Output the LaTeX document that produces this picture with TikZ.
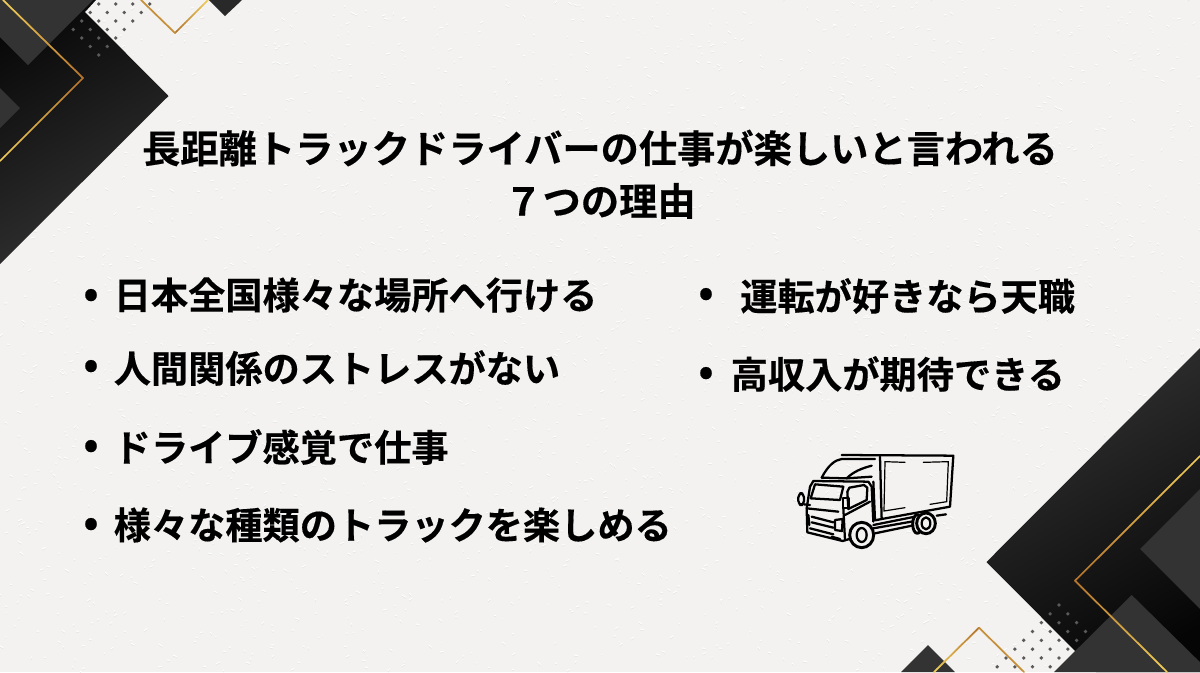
\documentclass[tikz,border=0pt]{standalone}
\usepackage{fontspec}
\setmainfont{Noto Sans CJK JP}[BoldFont=* Bold,BoldFeatures={FakeBold=0.35}]
\definecolor{paperbg}{HTML}{F3F2F0}
\definecolor{golddk}{HTML}{B5762E}
\definecolor{goldlt}{HTML}{EFCB58}
\definecolor{slatedk}{HTML}{333333}
\definecolor{dotgrey}{HTML}{5A5A5A}
\tikzset{
  titletext/.style={font=\fontsize{28.7pt}{30pt}\selectfont\bfseries, text=black, inner sep=0pt},
  itemtext/.style={font=\fontsize{27.9pt}{30pt}\selectfont\bfseries, text=black, inner sep=0pt, anchor=west},
  bullettext/.style={font=\fontsize{30pt}{30pt}\selectfont\bfseries, text=black, inner sep=0pt},
  goldline/.style={line width=1.3pt, line cap=round},
  truckline/.style={line width=1.7pt, line join=round, line cap=round, black},
  truckthin/.style={line width=0.9pt, line cap=round, black},
}
% gold line, pale at the first end and copper at the second
\newcommand{\goldrun}[4]{%
  \foreach \t in {0,...,15}{
    \pgfmathsetmacro{\mixv}{100-\t*100/15}
    \draw [goldline, color=goldlt!\mixv!golddk]
      ({#1+(#3-#1)*\t/16},{#2+(#4-#2)*\t/16}) -- ({#1+(#3-#1)*(\t+1)/16},{#2+(#4-#2)*(\t+1)/16});
  }}
\begin{document}
\begin{tikzpicture}[x=0.75pt,y=0.75pt,yscale=-1]
\useasboundingbox (0,0) rectangle (1200,672);
\clip (0,0) rectangle (1200,672);

%Background
\fill [paperbg] (0,0) rectangle (1200,672);
%paper grain
\pgfmathsetseed{4711}
\foreach \k in {1,...,2600}{
  \pgfmathsetmacro{\px}{random(0,1200)}
  \pgfmathsetmacro{\py}{random(0,672)}
  \pgfmathsetmacro{\pa}{rnd*5-2.5}
  \pgfmathsetmacro{\pb}{rnd*4}
  \draw [white, line width=0.7pt] (\px,\py) -- ++(\pb,\pa);
  \draw [black!11, line width=0.35pt] (\px,\py+1.2) -- ++(\pb,\pa);
}

%Shape: top left diamond
\shade [bottom color=black!97, top color=black!80, shading angle=-150] (-30,0) -- (96,0) -- (85,12) -- (168.5,96) -- (0,264) -- (-30,264) -- cycle;
%top left lighter pieces
\fill [slatedk] (0,0) -- (93,0) -- (28,65) -- (0,37) -- cycle;
\fill [slatedk] (0,88) -- (20,108) -- (0,128) -- cycle;
%Dots top left
\foreach \i in {0,...,6}
  \foreach \j in {0,...,3}
    \fill [dotgrey] ({98.7+8.5*\i-8.5*\j},{55-8.5*\i-8.5*\j}) circle (1.9);
%Gold lines top left
\goldrun{3}{0}{83}{78}
\goldrun{0}{161}{83}{78}
%top small diamond and gold
\fill [slatedk!80!black] (209,0) -- (225,16) -- (242,0) -- cycle;
\goldrun{208}{0}{175}{33}
\draw [goldline, golddk!70!goldlt] (141,0) -- (175,33);

%Shape: bottom right diamond
\shade [bottom color=black!80, top color=black!98, shading angle=-150] (986.5,562) -- (1200,348) -- (1230,348) -- (1230,672) -- (1096,672) -- cycle;
%Dots bottom right
\foreach \i in {0,...,8}
  \foreach \j in {0,...,3}
    \fill [dotgrey] ({1059-8.83*\i+8.83*\j},{605+8.83*\i+8.83*\j}) circle (1.9);
%bottom right lighter pieces
\fill [slatedk] (1131.7,595) -- (1054,672) -- (1210,672) -- cycle;
\fill [slatedk] (1140,549) -- (1200,489) -- (1200,609) -- cycle;
%Gold lines bottom right
\goldrun{1200}{456}{1075}{580.7}
\goldrun{1167}{672}{1075}{580.7}
%bottom small diamond and gold
\fill [slatedk] (928,645) -- (901,672) -- (955,672) -- cycle;
\goldrun{934}{672}{979}{627.7}
\draw [goldline, golddk!70!goldlt] (979,627.7) -- (1024,672);

% Text Node
\node (titleone) [titletext] at (600,148) {長距離トラックドライバーの仕事が楽しいと言われる};
\node (titletwo) [titletext] at (600,201) {７つの理由};

% Text Node
\node (itema) [itemtext] at (113.5,295) {日本全国様々な場所へ行ける};
\node (itemb) [itemtext] at (113.5,368) {人間関係のストレスがない};
\node (itemc) [itemtext] at (113.5,447) {ドライブ感覚で仕事};
\node (itemd) [itemtext] at (113.5,525) {様々な種類のトラックを楽しめる};
\node (iteme) [itemtext] at (740,296) {運転が好きなら天職};
\node (itemf) [itemtext] at (730.5,374) {高収入が期待できる};

% Bullets
\node (bula) [bullettext] at (91,298) {•};
\node (bulb) [bullettext] at (91,369) {•};
\node (bulc) [bullettext] at (91,449) {•};
\node (buld) [bullettext] at (91,527) {•};
\node (bule) [bullettext] at (706,297) {•};
\node (bulf) [bullettext] at (706,376) {•};

%Truck
\begin{scope}[shift={(790,445)},x=0.25pt,y=0.25pt]
%box
\draw [truckline] (155,30) -- (490,32) -- (480,185) -- (275,222);
\draw [truckline] (270,35) -- (275,222) -- (255,226) -- (250,110);
\draw [truckthin] (285,50) -- (282,198) -- (345,188);
\draw [truckthin] (285,50) -- (345,52) (400,52) -- (475,50) -- (470,170) -- (420,178);
%cab
\draw [truckline] (95,98) .. controls (115,60) and (135,45) .. (155,42) -- (255,42);
\draw [truckline] (95,98) -- (170,100) .. controls (190,80) and (215,70) .. (245,62);
\draw [truckline] (170,100) -- (245,95);
\draw [truckline] (60,125) -- (70,108) -- (235,110) -- (245,125) -- (250,230);
\draw [truckline] (75,118) -- (160,125) -- (150,165) -- (62,160) -- cycle;
\draw [truckline] (60,125) -- (50,190) -- (52,262) -- (158,288) -- (185,280);
\draw [truckline] (50,190) -- (145,200);
\draw [truckline] (160,190) -- (165,285);
%door
\draw [truckline] (178,128) -- (222,120) -- (232,128) -- (230,165) -- (175,192) -- (172,140) -- cycle;
\draw [truckline] (165,210) -- (240,170);
\draw [truckline] (160,160) rectangle (178,188);
%mirror
\draw [truckline, rounded corners=3pt] (25,145) rectangle (42,180);
\draw [truckline] (42,178) -- (60,180);
%grille and lamp
\draw [truckline] (65,215) -- (130,232) (65,232) -- (130,248) (60,250) -- (130,268);
\draw [truckline] (135,225) -- (158,222) -- (156,258) -- (135,255) -- cycle;
\draw [truckline] (55,210) -- (58,240);
\draw [truckline] (125,275) -- (150,282);
%chassis
\draw [truckline] (250,240) -- (375,215) (255,265) -- (375,240) (250,250) -- (375,228);
\draw [truckline] (440,212) -- (468,208);
%wheels
\draw [truckline, line width=2.2pt, fill=paperbg] (215,270) ellipse [x radius=36, y radius=38];
\draw [truckline, fill=paperbg] (215,270) ellipse [x radius=15, y radius=21];
\draw [truckline, line width=2.2pt, fill=paperbg] (382,237) ellipse [x radius=14, y radius=28];
\draw [truckline, line width=2.2pt, fill=paperbg] (408,235) ellipse [x radius=28, y radius=31];
\draw [truckline, fill=paperbg] (408,235) ellipse [x radius=13, y radius=18];
\end{scope}

\end{tikzpicture}
\end{document}
